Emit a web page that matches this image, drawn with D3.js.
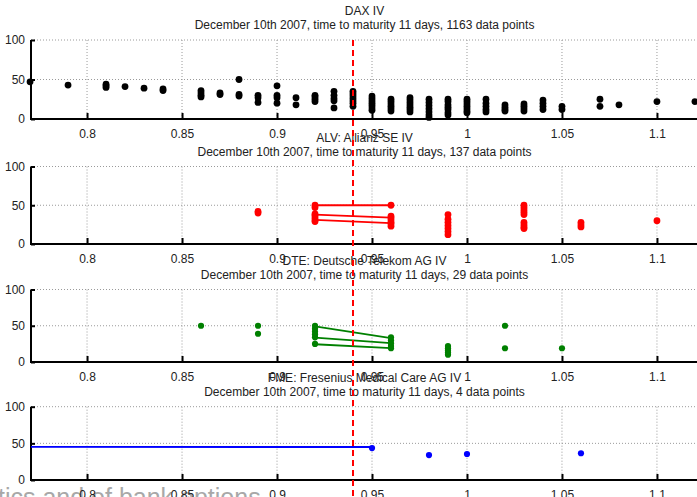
<!DOCTYPE html>
<html>
<head>
<meta charset="utf-8">
<script src="https://cdn.jsdelivr.net/npm/d3@7"></script>
<style>
  body { margin: 0; background: #fff; }
  text { font-family: "Liberation Sans", Arial, sans-serif; }
</style>
</head>
<body>
<script>
// x ticks + y ticks shared by all 4 panels
var xTicks = [0.8, 0.85, 0.9, 0.95, 1, 1.05, 1.1]
var yTicks = [0, 50, 100]
var cutoff = 0.94

var titles = ["DAX IV", "ALV: Allianz SE IV", "DTE: Deutsche Telekom AG IV", "FME: Fresenius Medical Care AG IV"]
var pointCounts = [1163, 137, 29, 4]

// DAX: strike -> implied vols
var daxStrikes = [0.77, 0.79, 0.81, 0.82, 0.83, 0.84, 0.86, 0.87, 0.88, 0.89, 0.9, 0.91, 0.92, 0.93, 0.94,
                  0.95, 0.96, 0.97, 0.98, 0.99, 1, 1.01, 1.02, 1.03, 1.04, 1.05, 1.07, 1.08, 1.1, 1.12]
var daxVols = [[47], [43], [44, 42, 40], [41], [39], [38, 36], [36, 33, 30, 28], [33, 31], [50, 31, 29],
               [30, 27, 21], [42, 30, 27, 20], [27, 18], [30, 28, 25, 22], [35, 30, 26, 23, 14],
               [35, 32, 29, 26, 23, 20, 16], [29, 26, 23, 20, 17, 14, 11], [25, 22, 19, 16, 13, 10],
               [27, 24, 21, 18, 15, 12, 9], [25, 21, 17, 13, 9, 5, 2], [25, 22, 18, 15, 12, 8, 5],
               [25, 22, 19, 16, 13, 10, 8], [25, 20, 16, 12, 9], [18, 15, 12, 10], [19, 16, 13, 10],
               [24, 20, 16, 12], [16, 12], [25, 16], [18], [22], [22]]

// ALV
var alvStrikes = [0.89, 0.92, 0.96, 0.99, 1.03, 1.06, 1.1]
var alvVols = [[42, 40], [50, 47, 39, 37, 34, 31, 29], [50, 36, 34, 31, 28, 26, 23], [38, 32, 28, 24, 20, 16, 12],
               [50, 47, 44, 41, 38, 28, 25, 22, 20], [28, 25, 22], [30]]
var alvLines = [[[0.92, 50], [0.96, 50]], [[0.92, 38], [0.96, 34]], [[0.92, 31], [0.96, 27]]]

// DTE
var dteStrikes = [0.86, 0.89, 0.92, 0.96, 0.99, 1.02, 1.05]
var dteVols = [[50], [50, 39], [50, 46, 42, 38, 34, 25], [34, 30, 26, 22, 19], [22, 19, 16, 13, 10], [50, 19], [19]]
var dteLines = [[[0.92, 49], [0.96, 33]], [[0.92, 33.5], [0.96, 26]], [[0.92, 24.5], [0.96, 19]]]

// FME
var fmeStrikes = [0.95, 0.98, 1, 1.06]
var fmeVols = [[43.5], [34], [35.5], [36.5]]
var fmeLines = [[[0.6, 45.3], [0.95, 45]]]

var main = function() {
  var width = 697
  var height = 497

  var panels = [
    {top: 40,    bottom: 119, strikes: daxStrikes, vols: daxVols, lines: [],       color: "#000000", r: 3.4},
    {top: 166.5, bottom: 244, strikes: alvStrikes, vols: alvVols, lines: alvLines, color: "#ff0000", r: 3.4},
    {top: 289.5, bottom: 362, strikes: dteStrikes, vols: dteVols, lines: dteLines, color: "#008000", r: 3.1},
    {top: 406.7, bottom: 480, strikes: fmeStrikes, vols: fmeVols, lines: fmeLines, color: "#0000ff", r: 3.1}
  ]

  var left = 31, right = 698

  var x = d3.scaleLinear().domain([0.7705, 1.1216]).range([left, right])

  var svg = d3.select("body").append("svg")
                .attr("width", width)
                .attr("height", height)

  svg.append("defs").append("clipPath")
      .attr("id", "clipx")
      .append("rect")
      .attr("x", left).attr("y", 0)
      .attr("width", right - left).attr("height", height)

  // faded caption text cut off at the bottom
  svg.append("text")
      .attr("x", -2)
      .attr("y", 506)
      .attr("font-size", "25px")
      .attr("fill", "#a8a8a8")
      .text("tics and of bank options")

  panels.forEach(function(p, i) {
    var y = d3.scaleLinear().domain([0, 100]).range([p.bottom, p.top])
    var g = svg.append("g")

    //grid (dotted)
    g.selectAll(".vgrid")
      .data(xTicks)
      .enter()
        .append("line")
        .attr("x1", function(d) {return x(d)})
        .attr("x2", function(d) {return x(d)})
        .attr("y1", p.top)
        .attr("y2", p.bottom)
        .attr("stroke", "#9a9a9a")
        .attr("stroke-dasharray", "1,2")
    g.selectAll(".hgrid")
      .data([50, 100])
      .enter()
        .append("line")
        .attr("x1", left)
        .attr("x2", right)
        .attr("y1", function(d) {return y(d)})
        .attr("y2", function(d) {return y(d)})
        .attr("stroke", "#9a9a9a")
        .attr("stroke-dasharray", "1,2")

    // axes
    var xAxis = g.append("g")
                  .attr("transform", "translate(0," + p.bottom + ")")
                  .call(d3.axisBottom(x).tickValues(xTicks).tickSize(-6).tickPadding(10)
                          .tickFormat(function(d) {return String(d)}))
    var yAxis = g.append("g")
                  .attr("transform", "translate(" + left + ",0)")
                  .call(d3.axisLeft(y).tickValues(yTicks).tickSize(-4).tickPadding(6))
    ;[xAxis, yAxis].forEach(function(a) {
      a.select(".domain").attr("stroke", "#000").attr("stroke-width", 2)
      a.selectAll(".tick line").attr("stroke", "#000").attr("stroke-width", 2)
      a.selectAll("text")
        .attr("font-family", "Liberation Sans, Arial, sans-serif")
        .attr("font-size", "12px")
        .attr("fill", "#222")
    })
    xAxis.select(".domain").attr("d", "M" + left + ",0H" + right)
    yAxis.select(".domain").attr("d", "M0," + (p.bottom + 1) + "V" + p.top)

    // titles
    g.append("text")
      .attr("x", (left + right) / 2)
      .attr("y", p.top - 25)
      .attr("text-anchor", "middle")
      .attr("font-size", "12px")
      .attr("fill", "#222")
      .text(titles[i])
    g.append("text")
      .attr("x", (left + right) / 2)
      .attr("y", p.top - 11)
      .attr("text-anchor", "middle")
      .attr("font-size", "12px")
      .attr("fill", "#222")
      .text("December 10th 2007, time to maturity 11 days, " + pointCounts[i] + " data points")

    // connecting lines
    var line = d3.line()
                  .x(function(d) {return x(d[0])})
                  .y(function(d) {return y(d[1])})
    g.selectAll(".seg")
      .data(p.lines)
      .enter()
        .append("path")
        .attr("d", line)
        .attr("fill", "none")
        .attr("stroke", p.color)
        .attr("stroke-width", 1.8)
        .attr("clip-path", "url(#clipx)")

    // flatten strike/vol pairs
    var pts = []
    p.strikes.forEach(function(k, j) {
      p.vols[j].forEach(function(v) { pts.push([k, v]) })
    })
    g.selectAll(".dot")
      .data(pts)
      .enter()
        .append("circle")
        .attr("cx", function(d) {return x(d[0])})
        .attr("cy", function(d) {return y(d[1])})
        .attr("r", p.r)
        .attr("fill", p.color)
  })

  // red dashed cut-off across all panels
  svg.append("line")
      .attr("x1", x(cutoff))
      .attr("x2", x(cutoff))
      .attr("y1", panels[0].top)
      .attr("y2", height)
      .attr("stroke", "#ff0000")
      .attr("stroke-width", 2)
      .attr("stroke-dasharray", "6,4")
};

main();
</script>
</body>
</html>
